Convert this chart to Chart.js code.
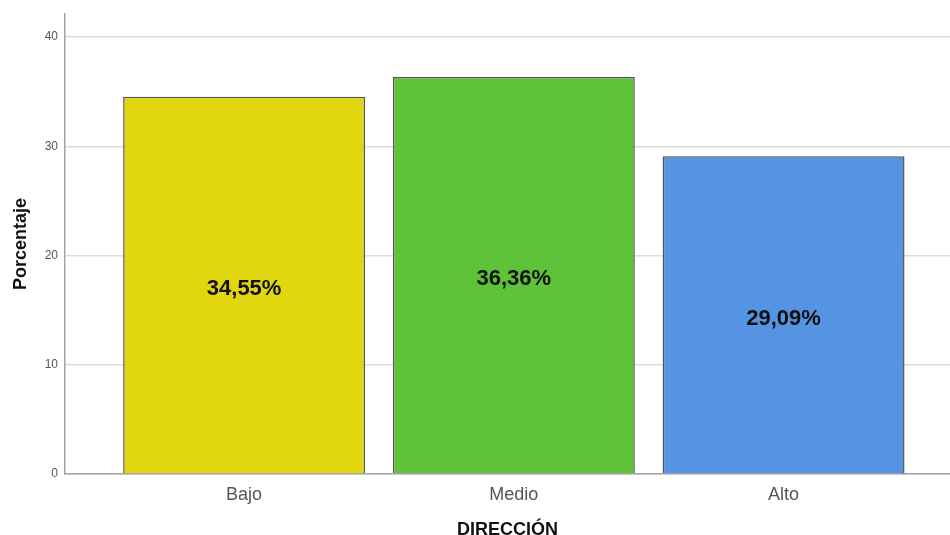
<!DOCTYPE html>
<html>
<head>
    <meta charset="UTF-8">
    <title>Dirección</title>
    <script src="https://cdn.jsdelivr.net/npm/chart.js"></script>
    <style>
        html, body { margin: 0; padding: 0; background: #ffffff; }
        #wrap { width: 950px; height: 535px; position: relative; }
    </style>
</head>
<body>
<div id="wrap"><canvas id="grafico"></canvas></div>
<script>
    // datos del gráfico
    const categorias = ['Bajo', 'Medio', 'Alto'];
    const porcentajes = [34.55, 36.36, 29.09];
    const colores = ['#e2d60f', '#5ec339', '#5494e2'];
    const ticksY = [0, 10, 20, 30, 40];

    // etiqueta de porcentaje en el centro de cada barra
    const etiquetasBarras = {
        id: 'etiquetasBarras',
        afterDatasetsDraw(chart) {
            const ctx = chart.ctx;
            const meta = chart.getDatasetMeta(0);
            ctx.save();
            ctx.font = 'bold 22px "Liberation Sans", Arial, sans-serif';
            ctx.fillStyle = '#111111';
            ctx.textAlign = 'center';
            ctx.textBaseline = 'middle';
            meta.data.forEach((bar, i) => {
                const texto = porcentajes[i].toFixed(2).replace('.', ',') + '%';
                ctx.fillText(texto, bar.x, (bar.y + bar.base) / 2 + 4);
            });
            ctx.restore();
        }
    };

    const ctx = document.getElementById('grafico').getContext('2d');
    new Chart(ctx, {
        type: 'bar',
        data: {
            datasets: [{
                data: porcentajes.map((v, i) => ({ x: i, y: v })),
                backgroundColor: colores,
                borderColor: '#555555',
                borderWidth: 1.5,
                barPercentage: 0.897,
                categoryPercentage: 1
            }]
        },
        options: {
            responsive: true,
            maintainAspectRatio: false,
            animation: false,
            layout: { padding: { top: 14, right: 0, left: 0, bottom: 0 } },
            plugins: {
                legend: { display: false },
                tooltip: { enabled: false }
            },
            scales: {
                x: {
                    type: 'linear',
                    offset: false,
                    min: -0.664,
                    max: 2.617,
                    grid: { display: false, drawTicks: false },
                    border: { display: true, color: '#a4a4a4', width: 1.5 },
                    ticks: {
                        stepSize: 1,
                        includeBounds: false,
                        autoSkip: false,
                        maxRotation: 0,
                        padding: 10,
                        color: '#555555',
                        font: { family: '"Liberation Sans", Arial, sans-serif', size: 18 },
                        callback: (v) => categorias[v] ?? ''
                    },
                    title: {
                        display: true,
                        text: 'DIRECCIÓN',
                        color: '#111111',
                        font: { family: '"Liberation Sans", Arial, sans-serif', size: 18, weight: 'bold', lineHeight: 1 },
                        padding: { top: 0, bottom: -4 }
                    },
                    afterFit: (scale) => { scale.height = 61; }
                },
                y: {
                    min: 0,
                    max: 42.1,
                    grid: { color: '#dcdcdc', lineWidth: 1.5, drawTicks: false },
                    border: { display: true, color: '#a4a4a4', width: 1.5 },
                    afterBuildTicks: (scale) => { scale.ticks = ticksY.map(v => ({ value: v })); },
                    ticks: {
                        padding: 7,
                        color: '#555555',
                        font: { family: '"Liberation Sans", Arial, sans-serif', size: 12 }
                    },
                    title: {
                        display: true,
                        text: 'Porcentaje',
                        color: '#111111',
                        font: { family: '"Liberation Sans", Arial, sans-serif', size: 18, weight: 'bold', lineHeight: 1 },
                        padding: { top: 12, bottom: 0 }
                    },
                    afterFit: (scale) => { scale.width = 65; }
                }
            }
        },
        plugins: [etiquetasBarras]
    });
</script>
</body>
</html>
